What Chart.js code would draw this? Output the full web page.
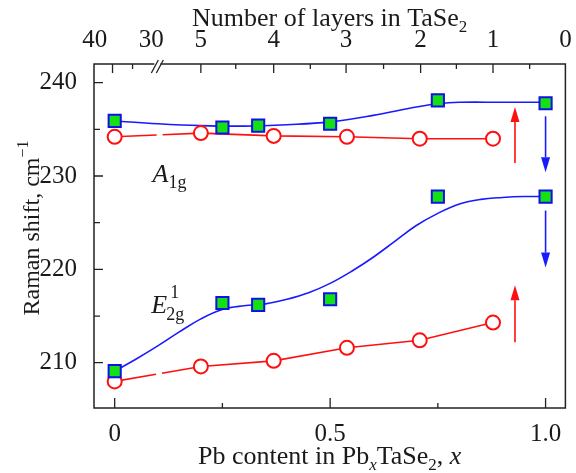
<!DOCTYPE html>
<html>
<head>
<meta charset="utf-8">
<script src="https://cdn.jsdelivr.net/npm/chart.js@4.4.0/dist/chart.umd.min.js"></script>
<style>
html, body { margin: 0; padding: 0; background: #fff; }
</style>
</head>
<body>
<canvas id="myChart" width="576" height="473"></canvas>
<script>
// measured points (x = Pb content)
var xSquares = [0, 0.25, 0.333, 0.5, 0.75, 1.0];
var a1gSquares = [235.9, 235.2, 235.4, 235.6, 238.1, 237.8];
var e2gSquares = [209.1, 216.4, 216.2, 216.8, 227.8, 227.8];

var xCircles = [0, 0.2, 0.369, 0.539, 0.708, 0.878];
var a1gCircles = [234.2, 234.6, 234.3, 234.2, 234.0, 234.0];
var e2gCircles = [208.0, 209.6, 210.2, 211.6, 212.4, 214.3];

// guide curves through the squares
var xA1gFit = [0, 0.1, 0.2, 0.3, 0.4, 0.5, 0.6, 0.7, 0.75, 0.8, 0.9, 1.0];
var a1gFit = [235.9, 235.6, 235.4, 235.35, 235.5, 235.8, 236.5, 237.4, 237.75, 237.9, 237.9, 237.9];
var xE2gFit = [0, 0.05, 0.1, 0.15, 0.2, 0.25, 0.3, 0.35, 0.4, 0.45, 0.5, 0.55, 0.6, 0.65, 0.7, 0.75, 0.8, 0.85, 0.9, 0.95, 1.0];
var e2gFit = [209.1, 210.4, 211.8, 213.3, 214.7, 215.7, 216.1, 216.3, 216.8, 217.5, 218.5, 219.8, 221.3, 223.0, 224.7, 226.0, 227.0, 227.5, 227.7, 227.8, 227.8];

// arrows: x, from, to
var arrowX = [0.929, 1.0, 1.0, 0.929];
var arrowFrom = [231.4, 236.4, 226.3, 212.2];
var arrowTo = [237.4, 230.4, 220.2, 218.3];
var arrowColor = ['#ff1010', '#1a1aff', '#1a1aff', '#ff1010'];

// axes
var yTicks = [210, 220, 230, 240];
var yMinor = [215, 225, 235];
var xTicks = [0, 0.5, 1.0];
var xTickLabels = ['0', '0.5', '1.0'];
var xMinor = [0.25, 0.75];
var topTickVals = [-0.046, 0.085, 0.2, 0.369, 0.537, 0.71, 0.878, 1.046];
var topTickLabels = ['40', '30', '5', '4', '3', '2', '1', '0'];
var topMajor = [-0.005, 0.2, 0.369, 0.537, 0.71, 0.878];
var topMinor = [0.0415, 0.281, 0.454, 0.624, 0.793, 0.963];
var breakAt = 0.099;

function pts(xs, ys) {
  return xs.map(function (x, i) { return { x: x, y: ys[i] }; });
}

var SERIF = "'Liberation Serif', 'Times New Roman', serif";
var INK = '#1a1a1a';

function drawParts(c, parts, x, y, align) {
  var w = 0;
  parts.forEach(function (p) {
    c.font = (p.italic ? 'italic ' : '') + p.size + 'px ' + SERIF;
    p.w = c.measureText(p.t).width;
    w += p.w;
  });
  var cx = align === 'center' ? x - w / 2 : x;
  parts.forEach(function (p) {
    c.font = (p.italic ? 'italic ' : '') + p.size + 'px ' + SERIF;
    c.fillText(p.t, cx, y + (p.dy || 0));
    cx += p.w;
  });
}

var decorPlugin = {
  id: 'decor',
  afterDatasetsDraw: function (chart) {
    var c = chart.ctx, a = chart.chartArea;
    var sx = chart.scales.x, sy = chart.scales.y;
    c.save();

    // arrows
    arrowX.forEach(function (v, i) {
      var px = sx.getPixelForValue(v);
      var p0 = sy.getPixelForValue(arrowFrom[i]);
      var p1 = sy.getPixelForValue(arrowTo[i]);
      var dir = p1 < p0 ? 1 : -1;
      var head = 15;
      c.strokeStyle = arrowColor[i];
      c.fillStyle = arrowColor[i];
      c.lineWidth = 1.6;
      c.beginPath();
      c.moveTo(px, p0);
      c.lineTo(px, p1 + dir * head);
      c.stroke();
      c.beginPath();
      c.moveTo(px, p1);
      c.lineTo(px - 4.5, p1 + dir * head);
      c.lineTo(px + 4.5, p1 + dir * head);
      c.closePath();
      c.fill();
    });

    // frame
    c.strokeStyle = '#222';
    c.lineWidth = 1.5;
    c.strokeRect(a.left, a.top, a.right - a.left, a.bottom - a.top);

    // tick marks, pointing inward
    c.lineWidth = 1.3;
    c.beginPath();
    yTicks.forEach(function (v) { var p = sy.getPixelForValue(v); c.moveTo(a.left, p); c.lineTo(a.left + 9, p); });
    yMinor.forEach(function (v) { var p = sy.getPixelForValue(v); c.moveTo(a.left, p); c.lineTo(a.left + 6, p); });
    xTicks.forEach(function (v) { var p = sx.getPixelForValue(v); c.moveTo(p, a.bottom); c.lineTo(p, a.bottom - 10); });
    xMinor.forEach(function (v) { var p = sx.getPixelForValue(v); c.moveTo(p, a.bottom); c.lineTo(p, a.bottom - 5); });
    topMajor.forEach(function (v) { var p = sx.getPixelForValue(v); c.moveTo(p, a.top); c.lineTo(p, a.top + 9); });
    topMinor.forEach(function (v) { var p = sx.getPixelForValue(v); c.moveTo(p, a.top); c.lineTo(p, a.top + 5); });
    c.stroke();

    // axis break
    var bx = sx.getPixelForValue(breakAt);
    c.fillStyle = '#fff';
    c.fillRect(bx - 3, a.top - 2, 6, 4);
    c.beginPath();
    c.moveTo(bx - 6, a.top + 9); c.lineTo(bx + 1, a.top - 4);
    c.moveTo(bx - 1, a.top + 9); c.lineTo(bx + 6, a.top - 4);
    c.stroke();

    // titles
    c.fillStyle = INK;
    c.textBaseline = 'alphabetic';
    c.textAlign = 'left';
    var mid = (a.left + a.right) / 2;
    drawParts(c, [{ t: 'Number of layers in TaSe', size: 26 }, { t: '2', size: 17, dy: 6 }], mid, 26, 'center');
    drawParts(c, [{ t: 'Pb content in Pb', size: 26 }, { t: 'x', size: 17, dy: 6, italic: true },
      { t: 'TaSe', size: 26 }, { t: '2', size: 17, dy: 6 }, { t: ', ', size: 26 }, { t: 'x', size: 26, italic: true }],
      mid, 464, 'center');

    c.save();
    c.translate(39, (a.top + a.bottom) / 2 - 8);
    c.rotate(-Math.PI / 2);
    drawParts(c, [{ t: 'Raman shift, cm', size: 24 }, { t: '\u22121', size: 16, dy: -11 }], 0, 0, 'center');
    c.restore();

    // mode labels
    var ax = sx.getPixelForValue(0.088), ay = sy.getPixelForValue(229.4);
    drawParts(c, [{ t: 'A', size: 26, italic: true }, { t: '1g', size: 18, dy: 6 }], ax, ay, 'left');
    var ex = sx.getPixelForValue(0.085), ey = sy.getPixelForValue(215.3);
    c.font = 'italic 26px ' + SERIF;
    c.fillText('E', ex, ey);
    var ew = c.measureText('E').width;
    c.font = '18px ' + SERIF;
    c.fillText('1', ex + ew + 3, ey - 15);
    c.fillText('2g', ex + ew - 1, ey + 7);

    c.restore();
  }
};

var tickFont = { family: SERIF, size: 25 };

var ctx = document.getElementById('myChart').getContext('2d');
var chart = new Chart(ctx, {
  type: 'scatter',
  data: {
    datasets: [
      {
        label: 'A1g squares', data: pts(xSquares, a1gSquares), order: 1,
        pointStyle: 'rect', pointRadius: 8.6, backgroundColor: '#14e014', borderColor: '#1010e8', borderWidth: 2
      },
      {
        label: 'E2g squares', data: pts(xSquares, e2gSquares), order: 1,
        pointStyle: 'rect', pointRadius: 8.6, backgroundColor: '#14e014', borderColor: '#1010e8', borderWidth: 2
      },
      {
        label: 'A1g circles', data: pts(xCircles, a1gCircles), order: 2, showLine: true, tension: 0,
        pointStyle: 'circle', pointRadius: 7, backgroundColor: '#fff', borderColor: '#ff1010',
        pointBorderWidth: 2, borderWidth: 1.6,
        segment: { borderDash: function (s) { return s.p0DataIndex === 0 ? [42, 6, 80, 0] : undefined; } }
      },
      {
        label: 'E2g circles', data: pts(xCircles, e2gCircles), order: 2, showLine: true, tension: 0,
        pointStyle: 'circle', pointRadius: 7, backgroundColor: '#fff', borderColor: '#ff1010',
        pointBorderWidth: 2, borderWidth: 1.6,
        segment: { borderDash: function (s) { return s.p0DataIndex === 0 ? [42, 6, 80, 0] : undefined; } }
      },
      {
        label: 'A1g fit', data: pts(xA1gFit, a1gFit), order: 3, showLine: true, pointRadius: 0,
        tension: 0.4, borderColor: '#1a1aff', borderWidth: 1.6
      },
      {
        label: 'E2g fit', data: pts(xE2gFit, e2gFit), order: 3, showLine: true, pointRadius: 0,
        tension: 0.4, borderColor: '#1a1aff', borderWidth: 1.6
      }
    ]
  },
  options: {
    responsive: false,
    animation: false,
    layout: { padding: { left: 0, right: 7, top: 0, bottom: 0 } },
    plugins: { legend: { display: false }, tooltip: { enabled: false } },
    scales: {
      x: {
        type: 'linear', position: 'bottom', min: -0.048, max: 1.046,
        grid: { display: false }, border: { display: false },
        afterBuildTicks: function (s) { s.ticks = xTicks.map(function (v) { return { value: v }; }); },
        afterFit: function (s) { s.height = 65; },
        ticks: {
          font: tickFont, color: INK, padding: 3, maxRotation: 0, autoSkip: false,
          callback: function (v, i) { return xTickLabels[i]; }
        }
      },
      x2: {
        type: 'linear', position: 'top', min: -0.048, max: 1.046,
        grid: { display: false }, border: { display: false },
        afterBuildTicks: function (s) { s.ticks = topTickVals.map(function (v) { return { value: v }; }); },
        afterFit: function (s) { s.height = 64; },
        ticks: {
          font: tickFont, color: INK, padding: 1, maxRotation: 0, autoSkip: false,
          callback: function (v, i) { return topTickLabels[i]; }
        }
      },
      y: {
        type: 'linear', position: 'left', min: 205.15, max: 242,
        grid: { display: false }, border: { display: false },
        afterBuildTicks: function (s) { s.ticks = yTicks.map(function (v) { return { value: v }; }); },
        afterFit: function (s) { s.width = 94; },
        ticks: { font: tickFont, color: INK, padding: 9 }
      }
    }
  },
  plugins: [decorPlugin]
});
</script>
</body>
</html>
